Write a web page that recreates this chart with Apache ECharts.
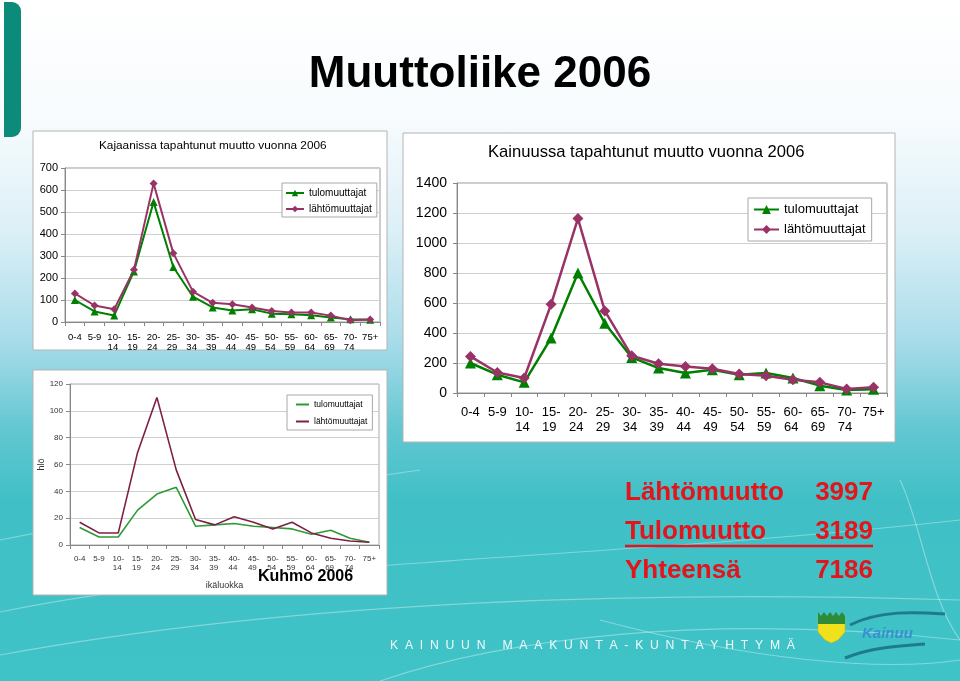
<!DOCTYPE html>
<html>
<head>
<meta charset="utf-8">
<title>Muuttoliike 2006</title>
<script src="https://cdn.jsdelivr.net/npm/echarts@6/dist/echarts.min.js"></script>
<style>
html,body{margin:0;padding:0;}
body{width:960px;height:681px;overflow:hidden;
background:linear-gradient(180deg,#ffffff 0px,#f7fbfd 120px,#dcf0f7 230px,#a9dcea 340px,#62c7d1 430px,#40c0c6 500px,#3fc3c7 681px);}
#main{width:960px;height:681px;}
</style>
</head>
<body>
<div id="main"></div>
<script>
var ageGroups = ['0-4','5-9','10-14','15-19','20-24','25-29','30-34','35-39','40-44','45-49','50-54','55-59','60-64','65-69','70-74','75+'];

// Kajaani
var kajaaniTulo  = [100, 48, 30, 230, 545, 250, 115, 66, 52, 58, 38, 35, 31, 20, 12, 10];
var kajaaniLahto = [130, 75, 58, 237, 630, 313, 138, 87, 81, 66, 50, 43, 43, 29, 8, 11];
// Kuhmo
var kuhmoTulo  = [13, 6, 6, 26, 38, 43, 14, 15, 16, 14, 13, 12, 8, 11, 5, 2];
var kuhmoLahto = [17, 9, 9, 69, 110, 56, 19, 15, 21, 17, 12, 17, 9, 5, 3, 2];
// Kainuu
var kainuuTulo  = [200, 122, 71, 366, 800, 465, 237, 166, 133, 155, 122, 133, 100, 49, 20, 25];
var kainuuLahto = [244, 137, 100, 591, 1163, 547, 248, 195, 177, 162, 126, 115, 89, 71, 27, 38];

var totalLabels = ['Lähtömuutto', 'Tulomuutto', 'Yhteensä'];
var totalValues = [3997, 3189, 7186];

var FONT = '"Liberation Sans", Arial, sans-serif';
var GREEN = '#008000', PURPLE = '#993366';
var names = {
    kajTulo: 'tulomuuttajat', kajLahto: 'lähtömuuttajat',
    kuhTulo: 'tulomuuttajat', kuhLahto: 'lähtömuuttajat',
    kaiTulo: 'tulomuuttajat', kaiLahto: 'lähtömuuttajat'
};

function ageLabel(v) {
    if (v.length > 3 && v.indexOf('-') > 0) {
        var p = v.split('-');
        return p[0] + '-\n' + p[1] + ' ';
    }
    return v;
}

function xAxisFor(gi, size, lh, margin, color) {
    return {
        gridIndex: gi, type: 'category', data: ageGroups,
        axisLine: {lineStyle: {color: '#888'}},
        axisTick: {show: true, length: 4, lineStyle: {color: '#888'}},
        axisLabel: {formatter: ageLabel, interval: 0, fontSize: size, lineHeight: lh,
            margin: margin, color: color, fontFamily: FONT}
    };
}
function yAxisFor(gi, max, step, size, margin, color) {
    return {
        gridIndex: gi, type: 'value', min: 0, max: max, interval: step,
        axisLine: {show: true, lineStyle: {color: '#888'}},
        axisTick: {show: true, length: 4, lineStyle: {color: '#888'}},
        axisLabel: {fontSize: size, margin: margin, color: color, fontFamily: FONT,
            formatter: function (v) { return String(v); }},
        splitLine: {lineStyle: {color: '#cfcfcf'}}
    };
}

var myChart = echarts.init(document.getElementById('main'));

var graphics = [
    // left teal bar
    {type: 'rect', z: -30, shape: {x: 4, y: 2, width: 17, height: 135, r: [0, 9, 9, 0]},
        style: {fill: '#0c8a7a'}},
    // panels
    {type: 'rect', z: -10, shape: {x: 33, y: 131, width: 354, height: 219},
        style: {fill: '#ffffff', stroke: '#b4b4b4', lineWidth: 1}},
    {type: 'rect', z: -10, shape: {x: 33, y: 370, width: 354, height: 225},
        style: {fill: '#ffffff', stroke: '#b4b4b4', lineWidth: 1}},
    {type: 'rect', z: -10, shape: {x: 403, y: 133, width: 492, height: 309},
        style: {fill: '#ffffff', stroke: '#b4b4b4', lineWidth: 1}},
    // Kuhmo label
    {type: 'text', z: 20, style: {text: 'Kuhmo 2006', x: 258, y: 577, textVerticalAlign: 'middle',
        fill: '#000', font: 'bold 16px ' + FONT}},
    // footer text
    {type: 'text', z: 5, style: {text: 'K  A  I  N  U  U  N     M  A  A  K  U  N  T  A  -  K  U  N  T  A  Y  H  T  Y  M  Ä',
        x: 390, y: 646, textVerticalAlign: 'middle', fill: 'rgba(255,255,255,0.92)', font: '12.2px ' + FONT}},
    // shield logo
    {type: 'polygon', z: 5, shape: {points: [[818, 616], [845, 616], [845, 632], [838, 640], [831.5, 643], [825, 640], [818, 632]]},
        style: {fill: '#f1e01c', stroke: '#c9b600', lineWidth: 0.5}},
    {type: 'polygon', z: 6, shape: {points: [[818, 612], [821, 616], [824, 612], [827, 616], [830, 612], [833, 616], [836, 612], [839, 616], [842, 612], [845, 616], [845, 624], [818, 624]]},
        style: {fill: '#2e8b3a'}},
    // Kainuu logo
    {type: 'bezierCurve', z: 5, shape: {x1: 850, y1: 625, cpx1: 880, cpy1: 610, cpx2: 915, cpy2: 612, x2: 945, y2: 614},
        style: {stroke: '#1f7b8c', lineWidth: 3, fill: null}},
    {type: 'bezierCurve', z: 5, shape: {x1: 845, y1: 658, cpx1: 870, cpy1: 648, cpx2: 895, cpy2: 646, x2: 925, y2: 644},
        style: {stroke: '#1f7b8c', lineWidth: 3, fill: null}},
    {type: 'text', z: 6, style: {text: 'Kainuu', x: 862, y: 634, textVerticalAlign: 'middle',
        fill: '#3a8fd0', font: 'bold italic 15px ' + FONT}},
    // underline under Tulomuutto
    {type: 'line', z: 5, shape: {x1: 625, y1: 546, x2: 873, y2: 546},
        style: {stroke: '#e3141b', lineWidth: 2.5}}
];

// decorative curves
var curves = [
    [0, 612, 250, 560, 600, 560, 960, 520],
    [0, 655, 300, 600, 650, 590, 960, 600],
    [380, 681, 500, 640, 700, 612, 960, 640],
    [0, 540, 200, 500, 350, 480, 420, 470],
    [600, 620, 750, 660, 880, 672, 960, 660],
    [900, 480, 920, 520, 930, 600, 960, 640]
];
curves.forEach(function (c) {
    graphics.push({type: 'bezierCurve', z: -20,
        shape: {x1: c[0], y1: c[1], cpx1: c[2], cpy1: c[3], cpx2: c[4], cpy2: c[5], x2: c[6], y2: c[7]},
        style: {stroke: 'rgba(255,255,255,0.35)', lineWidth: 1.2, fill: null}});
});

// red totals
totalLabels.forEach(function (t, i) {
    var y = 493 + i * 39;
    graphics.push({type: 'text', z: 5, style: {text: t, x: 625, y: y, textVerticalAlign: 'middle',
        fill: '#e3141b', font: 'bold 26px ' + FONT}});
    graphics.push({type: 'text', z: 5, style: {text: String(totalValues[i]), x: 873, y: y, textAlign: 'right',
        textVerticalAlign: 'middle', fill: '#e3141b', font: 'bold 26px ' + FONT}});
});

var option = {
    backgroundColor: 'transparent',
    animation: false,
    textStyle: {fontFamily: FONT},
    title: [
        {text: 'Muuttoliike 2006', left: 'center', top: 53, padding: 0,
            textStyle: {fontSize: 44, fontWeight: 'bold', color: '#000', fontFamily: FONT}},
        {text: 'Kajaanissa tapahtunut muutto vuonna 2006', left: 99, top: 140, padding: 0,
            textStyle: {fontSize: 11.8, fontWeight: 'normal', color: '#000', fontFamily: FONT}},
        {text: 'Kainuussa tapahtunut muutto vuonna 2006', left: 488, top: 144, padding: 0,
            textStyle: {fontSize: 16.6, fontWeight: 'normal', color: '#000', fontFamily: FONT}}
    ],
    legend: [
        {data: ['kajTulo', 'kajLahto'], formatter: function (n) { return names[n]; },
            orient: 'vertical', left: 282, top: 183, itemWidth: 18, itemHeight: 8, itemGap: 6,
            padding: [5, 5, 3, 3], backgroundColor: '#fff', borderColor: '#a8a8a8', borderWidth: 1,
            textStyle: {fontSize: 10, color: '#000', fontFamily: FONT}},
        {data: [{name: 'kuhTulo', icon: 'rect'}, {name: 'kuhLahto', icon: 'rect'}],
            formatter: function (n) { return names[n]; },
            orient: 'vertical', left: 287, top: 395, itemWidth: 13, itemHeight: 2, itemGap: 8,
            padding: [5, 5, 4, 9], backgroundColor: '#fff', borderColor: '#a8a8a8', borderWidth: 1,
            textStyle: {fontSize: 8.5, color: '#000', fontFamily: FONT}},
        {data: ['kaiTulo', 'kaiLahto'], formatter: function (n) { return names[n]; },
            orient: 'vertical', left: 748, top: 198, itemWidth: 25, itemHeight: 11, itemGap: 7,
            padding: [5, 6, 5, 5], backgroundColor: '#fff', borderColor: '#a8a8a8', borderWidth: 1,
            textStyle: {fontSize: 13, color: '#000', fontFamily: FONT}}
    ],
    grid: [
        {left: 65, top: 168, width: 315, height: 154, show: true, borderColor: '#999', borderWidth: 1},
        {left: 70, top: 384, width: 309, height: 161, show: true, borderColor: '#aaa', borderWidth: 1},
        {left: 457, top: 183, width: 430, height: 210, show: true, borderColor: '#999', borderWidth: 1}
    ],
    xAxis: [
        xAxisFor(0, 9.5, 10, 10, '#000'),
        Object.assign(xAxisFor(1, 8, 9, 9, '#333'), {name: 'ikäluokka', nameLocation: 'middle', nameGap: 36,
            nameTextStyle: {fontSize: 9, color: '#333', fontFamily: FONT}}),
        xAxisFor(2, 13, 15, 12, '#000')
    ],
    yAxis: [
        yAxisFor(0, 700, 100, 11, 7, '#000'),
        Object.assign(yAxisFor(1, 120, 20, 8, 7, '#333'), {name: 'hlö', nameLocation: 'middle', nameGap: 23,
            nameTextStyle: {fontSize: 9, color: '#333', fontFamily: FONT}}),
        yAxisFor(2, 1400, 200, 14, 10, '#000')
    ],
    series: [
        {name: 'kajTulo', type: 'line', xAxisIndex: 0, yAxisIndex: 0, data: kajaaniTulo,
            symbol: 'triangle', symbolSize: 8, color: GREEN, lineStyle: {width: 2, color: GREEN}},
        {name: 'kajLahto', type: 'line', xAxisIndex: 0, yAxisIndex: 0, data: kajaaniLahto,
            symbol: 'diamond', symbolSize: 8, color: PURPLE, lineStyle: {width: 2, color: PURPLE}},
        {name: 'kuhTulo', type: 'line', xAxisIndex: 1, yAxisIndex: 1, data: kuhmoTulo,
            symbol: 'none', color: '#2f9a34', lineStyle: {width: 1.6, color: '#2f9a34'}},
        {name: 'kuhLahto', type: 'line', xAxisIndex: 1, yAxisIndex: 1, data: kuhmoLahto,
            symbol: 'none', color: '#7e1f48', lineStyle: {width: 1.6, color: '#7e1f48'}},
        {name: 'kaiTulo', type: 'line', xAxisIndex: 2, yAxisIndex: 2, data: kainuuTulo,
            symbol: 'triangle', symbolSize: 11, color: GREEN, lineStyle: {width: 2.5, color: GREEN}},
        {name: 'kaiLahto', type: 'line', xAxisIndex: 2, yAxisIndex: 2, data: kainuuLahto,
            symbol: 'diamond', symbolSize: 11, color: PURPLE, lineStyle: {width: 2.5, color: PURPLE}}
    ],
    graphic: {elements: graphics}
};

myChart.setOption(option);

window.onresize = function () {
    myChart.resize();
};
</script>
</body>
</html>
